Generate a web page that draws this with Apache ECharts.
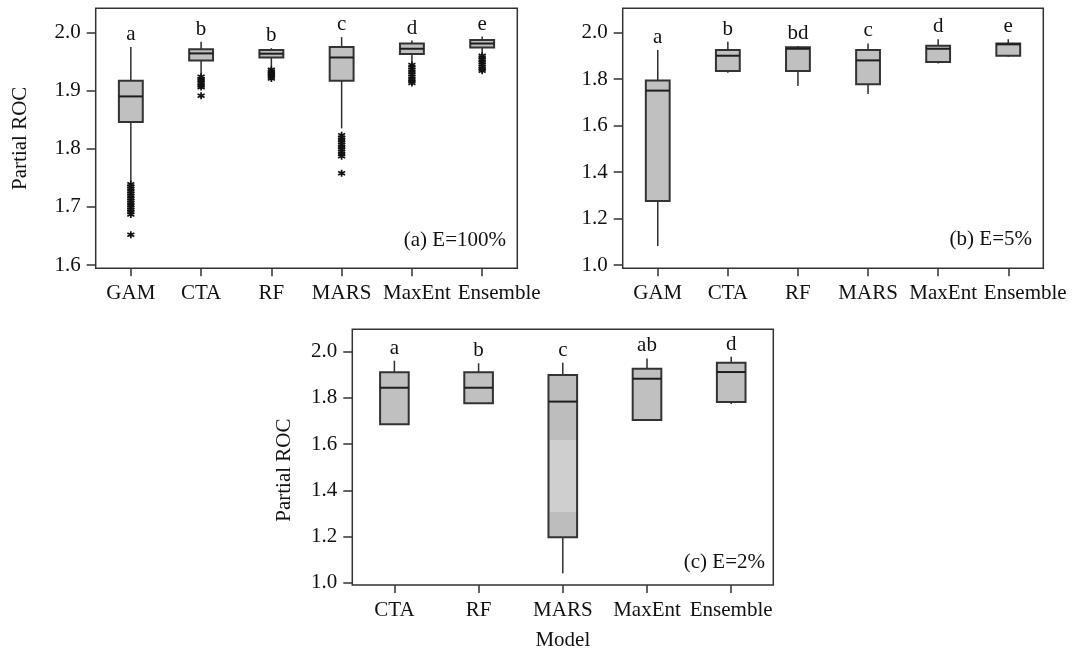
<!DOCTYPE html>
<html><head><meta charset="utf-8">
<script src="https://cdn.jsdelivr.net/npm/echarts@6/dist/echarts.min.js"></script>
<style>html,body{margin:0;padding:0;background:#fff}#c{width:1076px;height:652px}</style>
</head><body><div id="c"></div>
<script>
// ---------- data ----------
const modelsAB = ['GAM', 'CTA', 'RF', 'MARS', 'MaxEnt', 'Ensemble'];
const modelsC = ['CTA', 'RF', 'MARS', 'MaxEnt', 'Ensemble'];

// each box: [lower whisker, Q1, median, Q3, upper whisker]
const boxA = [
  [1.743, 1.846, 1.890, 1.917, 1.975],
  [1.927, 1.952, 1.964, 1.971, 1.984],
  [1.938, 1.957, 1.9635, 1.970, 1.973],
  [1.835, 1.917, 1.957, 1.975, 1.992],
  [1.947, 1.963, 1.972, 1.981, 1.986],
  [1.962, 1.974, 1.981, 1.987, 1.993]
];
const boxB = [
  [1.082, 1.275, 1.750, 1.793, 1.925],
  [1.827, 1.834, 1.900, 1.925, 1.960],
  [1.770, 1.834, 1.930, 1.936, 1.942],
  [1.735, 1.777, 1.880, 1.925, 1.953],
  [1.867, 1.873, 1.930, 1.943, 1.971],
  [1.896, 1.900, 1.949, 1.953, 1.971]
];
const boxC = [
  [1.686, 1.686, 1.844, 1.911, 1.961],
  [1.777, 1.777, 1.844, 1.911, 1.950],
  [1.041, 1.197, 1.784, 1.899, 1.952],
  [1.704, 1.704, 1.883, 1.926, 1.971],
  [1.774, 1.782, 1.912, 1.952, 1.978]
];

// outliers of panel (a), per model
const outGAM = [1.739, 1.735, 1.731, 1.727, 1.723, 1.719, 1.715, 1.711, 1.707, 1.703, 1.699, 1.695, 1.691, 1.687, 1.652];
const outCTA = [1.924, 1.920, 1.917, 1.913, 1.909, 1.906, 1.891];
const outRF = [1.936, 1.933, 1.930, 1.927, 1.924, 1.921];
const outMARS = [1.823, 1.819, 1.815, 1.811, 1.807, 1.803, 1.799, 1.795, 1.791, 1.787, 1.758];
const outMaxEnt = [1.944, 1.940, 1.936, 1.932, 1.928, 1.924, 1.920, 1.916, 1.913];
const outEnsemble = [1.960, 1.957, 1.953, 1.949, 1.945, 1.941, 1.937, 1.934];

const lettersA = ['a', 'b', 'b', 'c', 'd', 'e'];
const lettersB = ['a', 'b', 'bd', 'c', 'd', 'e'];
const lettersC = ['a', 'b', 'c', 'ab', 'd'];

const yTicksA = [1.6, 1.7, 1.8, 1.9, 2.0];
const yTicksBC = [1.0, 1.2, 1.4, 1.6, 1.8, 2.0];

const panelTitles = ['(a) E=100%', '(b) E=5%', '(c) E=2%'];
const yName = 'Partial ROC';
const xName = 'Model';

// ---------- styles ----------
const FONT = "'Liberation Serif','Times New Roman',serif";
const FS = 21;
const INK = '#111';
const FRAME = '#333';
const FILL = '#c0c0c0';
// horizontal nudge (px) of the crowded category labels in panels (a) and (b)
const labelNudgeAB = [0, 0, 0, 0, 5, 17];
const marsFillC = {
  type: 'linear', x: 0, y: 0, x2: 0, y2: 1,
  colorStops: [
    {offset: 0, color: '#bdbdbd'}, {offset: 0.40, color: '#bdbdbd'},
    {offset: 0.40, color: '#cfcfcf'}, {offset: 0.84, color: '#cfcfcf'},
    {offset: 0.84, color: '#bdbdbd'}, {offset: 1, color: '#bdbdbd'}
  ]
};

function boxData(boxes) {
  return boxes.map((b, i) => [i].concat(b));
}
function outlierData(lists) {
  const d = [];
  lists.forEach((l, i) => l.forEach(v => d.push([i, v])));
  return d;
}

function boxRenderer(letters, fills) {
  return function (params, api) {
    const i = api.value(0);
    const lo = api.coord([i, api.value(1)]);
    const q1 = api.coord([i, api.value(2)]);
    const md = api.coord([i, api.value(3)]);
    const q3 = api.coord([i, api.value(4)]);
    const hi = api.coord([i, api.value(5)]);
    const bw = api.size([1, 0])[0] * 0.34;
    const x = hi[0];
    const line = {stroke: '#2e2e2e', lineWidth: 1.5};
    return {
      type: 'group',
      children: [
        {type: 'line', shape: {x1: x, y1: hi[1], x2: x, y2: q3[1]}, style: line},
        {type: 'line', shape: {x1: x, y1: q1[1], x2: x, y2: lo[1]}, style: line},
        {type: 'rect', shape: {x: x - bw / 2, y: q3[1], width: bw, height: q1[1] - q3[1]},
          style: {fill: (fills && fills[params.dataIndex]) || FILL, stroke: FRAME, lineWidth: 2}},
        {type: 'line', shape: {x1: x - bw / 2, y1: md[1], x2: x + bw / 2, y2: md[1]},
          style: {stroke: '#1e1e1e', lineWidth: 2}},
        {type: 'text', x: x, y: hi[1] - 2,
          style: {text: letters[params.dataIndex], align: 'center', verticalAlign: 'bottom',
            fontSize: FS, fontFamily: FONT, fill: INK}}
      ]
    };
  };
}

const asterisk = 'path://M0,0L0,10M-4.33,2.5L4.33,7.5M-4.33,7.5L4.33,2.5';

function xAxisDef(gridIndex, cats, withName, nudge) {
  const label = {interval: 0, fontFamily: FONT, fontSize: FS, color: INK, margin: 15};
  if (nudge) {
    const rich = {};
    nudge.forEach((n, k) => {
      rich['n' + k] = {fontFamily: FONT, fontSize: FS, color: INK, padding: [0, 0, 0, 2 * n]};
    });
    label.rich = rich;
    label.formatter = (v, idx) => '{n' + idx + '|' + v + '}';
  }
  const a = {
    gridIndex: gridIndex, type: 'category', data: cats, boundaryGap: true,
    axisLine: {show: false},
    axisTick: {show: true, alignWithLabel: true, interval: 0, length: 8, lineStyle: {color: FRAME, width: 1.5}},
    axisLabel: label,
    splitLine: {show: false}
  };
  if (withName) {
    a.name = xName; a.nameLocation = 'middle'; a.nameGap = 45;
    a.nameTextStyle = {fontFamily: FONT, fontSize: FS, color: INK};
  }
  return a;
}
function yAxisDef(gridIndex, min, max, ticks, nameGap, namePad) {
  const a = {
    gridIndex: gridIndex, type: 'value', min: min, max: max,
    axisLine: {show: false},
    axisTick: {show: true, length: 9, customValues: ticks, lineStyle: {color: FRAME, width: 1.5}},
    axisLabel: {customValues: ticks, formatter: v => v.toFixed(1), fontFamily: FONT, fontSize: FS, color: INK, margin: 15},
    splitLine: {show: false}
  };
  if (nameGap) {
    a.name = yName; a.nameLocation = 'middle'; a.nameGap = nameGap;
    a.nameTextStyle = {fontFamily: FONT, fontSize: FS, color: INK, padding: namePad || 0};
  }
  return a;
}

const gridBase = {show: true, borderColor: FRAME, borderWidth: 1.5, backgroundColor: 'transparent', containLabel: false};
const titleStyle = {fontFamily: FONT, fontSize: FS, fontWeight: 'normal', color: INK};

const option = {
  animation: false,
  backgroundColor: '#fff',
  title: [
    {text: panelTitles[0], right: 570, top: 230, padding: 0, textStyle: titleStyle},
    {text: panelTitles[1], right: 44, top: 229, padding: 0, textStyle: titleStyle},
    {text: panelTitles[2], right: 311, top: 552, padding: 0, textStyle: titleStyle}
  ],
  grid: [
    Object.assign({left: 95.7, top: 8.3, width: 421.6, height: 260}, gridBase),
    Object.assign({left: 622.7, top: 8.3, width: 420.6, height: 260}, gridBase),
    Object.assign({left: 352.3, top: 329.3, width: 421, height: 255.7}, gridBase)
  ],
  xAxis: [
    xAxisDef(0, modelsAB, false, labelNudgeAB),
    xAxisDef(1, modelsAB, false, labelNudgeAB),
    xAxisDef(2, modelsC, true)
  ],
  yAxis: [
    yAxisDef(0, 1.5943, 2.0416, yTicksA, 65),
    yAxisDef(1, 0.9858, 2.104, yTicksBC, 0),
    yAxisDef(2, 0.990, 2.097, yTicksBC, 57, [0, 26, 0, 0])
  ],
  series: [
    {type: 'custom', xAxisIndex: 0, yAxisIndex: 0, data: boxData(boxA),
      encode: {x: 0, y: [1, 2, 3, 4, 5]}, renderItem: boxRenderer(lettersA), silent: true},
    {type: 'scatter', xAxisIndex: 0, yAxisIndex: 0,
      data: outlierData([outGAM, outCTA, outRF, outMARS, outMaxEnt, outEnsemble]),
      symbol: asterisk, symbolSize: 7,
      itemStyle: {color: INK, borderColor: INK, borderWidth: 1.7, opacity: 1}, silent: true},
    {type: 'custom', xAxisIndex: 1, yAxisIndex: 1, data: boxData(boxB),
      encode: {x: 0, y: [1, 2, 3, 4, 5]}, renderItem: boxRenderer(lettersB), silent: true},
    {type: 'custom', xAxisIndex: 2, yAxisIndex: 2, data: boxData(boxC),
      encode: {x: 0, y: [1, 2, 3, 4, 5]}, renderItem: boxRenderer(lettersC, [null, null, marsFillC, null, null]), silent: true}
  ]
};

const chart = echarts.init(document.getElementById('c'), null, {renderer: 'canvas'});
chart.setOption(option);
</script>
</body></html>
